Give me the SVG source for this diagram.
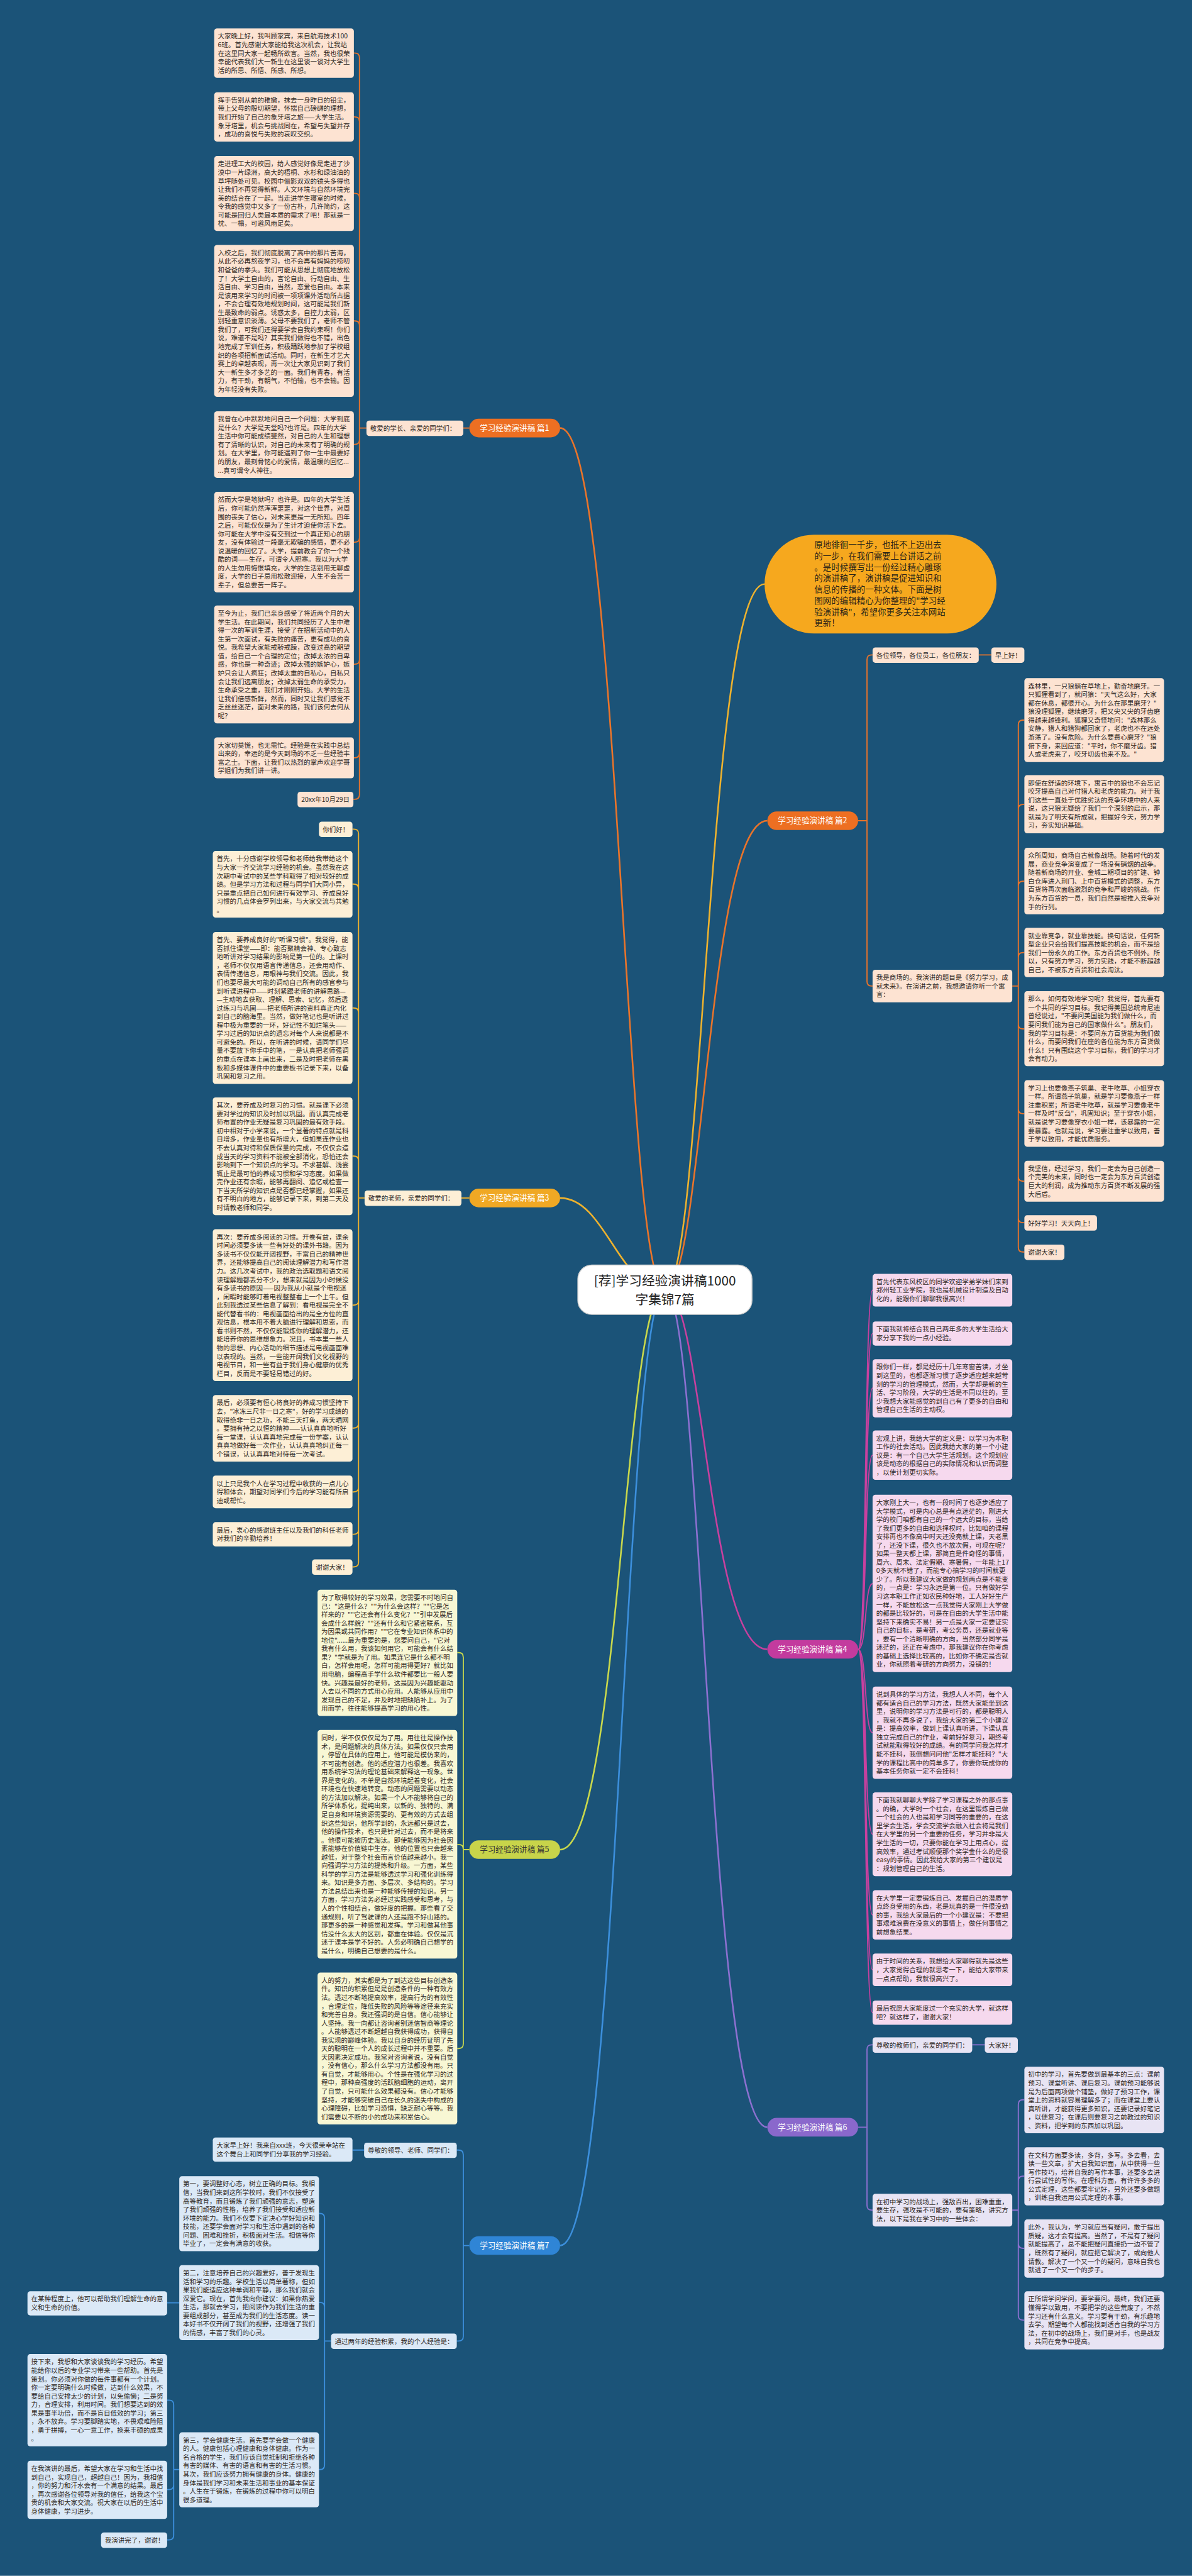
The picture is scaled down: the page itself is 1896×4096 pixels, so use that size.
<svg xmlns="http://www.w3.org/2000/svg" width="1896" height="4096" viewBox="0 0 1896 4096">
<style>
text{font-family:"Noto Sans CJK SC","Noto Sans",sans-serif;}
.t{font-size:14.2px;fill:#2f2824}
.o rect{fill:#fde3d2}
.y rect{fill:#fdefd6}
.p rect{fill:#f6d9ee}
.g rect{fill:#f8f7d4}
.v rect{fill:#e8e4f4}
.u rect{fill:#dbe9f7}
.cn path{fill:none;stroke-width:2.5}
.k1{stroke:#ea742a}
.k3{stroke:#eeb22e}
.k4{stroke:#c8409f}
.k5{stroke:#c9d84c}
.k6{stroke:#8c70d0}
.k7{stroke:#3c8fdc}
.main{stroke-width:3.5 !important}
.br text{font-size:17px;fill:#fff;text-anchor:middle}
</style>
<g transform="scale(0.740625)">
<rect x="0" y="0" width="2560" height="5530" fill="#1b5378"/>
<g id="connectors" class="cn">
<path class="k3 main" d="M1642 1254C1520 1254 1510 2769 1428 2769"/>
<path class="k1 main" d="M1203 919C1330 919 1340 2769 1428 2769"/>
<path class="k3 main" d="M1203 2572C1300 2572 1330 2769 1428 2769"/>
<path class="k5 main" d="M1203 3971C1330 3971 1340 2769 1428 2769"/>
<path class="k7 main" d="M1203 4821C1330 4821 1340 2769 1428 2769"/>
<path class="k1 main" d="M1648 1762C1520 1762 1510 2769 1428 2769"/>
<path class="k4 main" d="M1648 3541C1520 3541 1510 2769 1428 2769"/>
<path class="k6 main" d="M1648 4567C1520 4567 1510 2769 1428 2769"/>
<path class="k1" d="M1008 919H995"/>
<path class="k1" d="M787 919H772V124Q772 114 762 114H759M787 919H772V261Q772 251 762 251H759M787 919H772V425Q772 415 762 415H759M787 919H772V699Q772 689 762 689H759M787 919H772V944Q772 954 762 954H759M787 919H772V1154Q772 1164 762 1164H759M787 919H772V1416Q772 1426 762 1426H759M787 919H772V1617Q772 1627 762 1627H759M787 919H772V1706Q772 1716 762 1716H759"/>
<path class="k3" d="M1008 2572H991"/>
<path class="k3" d="M783 2572H770V1790Q770 1780 760 1780H757M783 2572H770V1908Q770 1898 760 1898H757M783 2572H770V2174Q770 2164 760 2164H757M783 2572H770V2492Q770 2482 760 2482H757M783 2572H770V2792Q770 2802 760 2802H757M783 2572H770V3056Q770 3066 760 3066H757M783 2572H770V3193Q770 3203 760 3203H757M783 2572H770V3284Q770 3294 760 3294H757M783 2572H770V3354Q770 3364 760 3364H757"/>
<path class="k5" d="M1008 3971H995V3558Q995 3548 985 3548H982M1008 3971H995V3970Q995 3960 985 3960H982M1008 3971H995V4388Q995 4398 985 4398H982"/>
<path class="k7" d="M1008 4821H995V4626Q995 4616 985 4616H981M1008 4821H995V5016Q995 5026 985 5026H981M782 4616H757M711 5026H697V4762Q697 4752 687 4752H685M711 5026H697V4953Q697 4943 687 4943H685M711 5026H697V5292Q697 5302 687 5302H685M385 4944H359M385 5302H373V5163Q373 5153 363 5153H359M385 5302H373V5335Q373 5345 363 5345H359M385 5302H373V5443Q373 5453 363 5453H359"/>
<path class="k1" d="M1843 1762H1862V1416Q1862 1406 1872 1406H1874M1843 1762H1862V2107Q1862 2117 1872 2117H1874M2102 1406H2129M2174 2117H2187V1556Q2187 1546 2197 1546H2200M2174 2117H2187V1737Q2187 1727 2197 1727H2200M2174 2117H2187V1902Q2187 1892 2197 1892H2200M2174 2117H2187V2055Q2187 2045 2197 2045H2200M2174 2117H2187V2199Q2187 2209 2197 2209H2200M2174 2117H2187V2381Q2187 2391 2197 2391H2200M2174 2117H2187V2526Q2187 2536 2197 2536H2200M2174 2117H2187V2615Q2187 2625 2197 2625H2200M2174 2117H2187V2678Q2187 2688 2197 2688H2200"/>
<path class="k4" d="M1843 3541C1862 3541 1856 2770 1874 2770M1843 3541C1862 3541 1856 2863 1874 2863M1843 3541C1862 3541 1856 2980 1874 2980M1843 3541C1862 3541 1856 3124 1874 3124M1843 3541C1862 3541 1856 3400 1874 3400M1843 3541C1862 3541 1856 3720 1874 3720M1843 3541C1862 3541 1856 3938 1874 3938M1843 3541C1862 3541 1856 4111 1874 4111M1843 3541C1862 3541 1856 4229 1874 4229M1843 3541C1862 3541 1856 4321 1874 4321"/>
<path class="k6" d="M1843 4567H1862V4400Q1862 4390 1872 4390H1874M1843 4567H1862V4735Q1862 4745 1872 4745H1874M2088 4390H2115M2174 4745H2187V4518Q2187 4508 2197 4508H2200M2174 4745H2187V4682Q2187 4672 2197 4672H2200M2174 4745H2187V4817Q2187 4827 2197 4827H2200M2174 4745H2187V4971Q2187 4981 2197 4981H2200"/>
</g>

<g id="center"><rect x="1241" y="2716" width="374" height="106" rx="30" fill="#fff" stroke="#d0d0d0" stroke-width="2"/><text x="1428" y="2760" font-size="28" fill="#222" text-anchor="middle">[荐]学习经验演讲稿1000<tspan x="1428" dy="40">字集锦7篇</tspan></text></g>
<g id="intro"><rect x="1642" y="1148" width="498" height="212" rx="106" fill="#f6a81e"/><text x="1749" y="1176" font-size="18.2" fill="#2a2418"><tspan x="1749">原地徘徊一千步，也抵不上迈出去</tspan><tspan x="1749" dy="24">的一步，在我们需要上台讲话之前</tspan><tspan x="1749" dy="24">。是时候撰写出一份经过精心雕琢</tspan><tspan x="1749" dy="24">的演讲稿了，演讲稿是促进知识和</tspan><tspan x="1749" dy="24">信息的传播的一种文体。下面是树</tspan><tspan x="1749" dy="24">图网的编辑精心为你整理的"学习经</tspan><tspan x="1749" dy="24">验演讲稿"，希望你更多关注本网站</tspan><tspan x="1749" dy="24">更新！</tspan></text></g>

<g class="br">
<g id="p1"><rect x="1008" y="899" width="195" height="40" rx="20" fill="#ed6f22"/><text x="1105" y="925">学习经验演讲稿 篇1</text></g>
<g id="p3"><rect x="1008" y="2552" width="195" height="40" rx="20" fill="#f0a824"/><text x="1105" y="2578">学习经验演讲稿 篇3</text></g>
<g id="p5"><rect x="1008" y="3951" width="195" height="40" rx="20" fill="#c8d44a"/><text x="1105" y="3977" style="fill:#333">学习经验演讲稿 篇5</text></g>
<g id="p7"><rect x="1008" y="4801" width="195" height="40" rx="20" fill="#2f85d6"/><text x="1105" y="4827">学习经验演讲稿 篇7</text></g>
<g id="p2"><rect x="1648" y="1742" width="195" height="40" rx="20" fill="#ed6f22"/><text x="1745" y="1768">学习经验演讲稿 篇2</text></g>
<g id="p4"><rect x="1648" y="3521" width="195" height="40" rx="20" fill="#c33b9e"/><text x="1745" y="3547">学习经验演讲稿 篇4</text></g>
<g id="p6"><rect x="1648" y="4547" width="195" height="40" rx="20" fill="#8a68cc"/><text x="1745" y="4573">学习经验演讲稿 篇6</text></g>
</g>

<g class="o">
<g id="a0"><rect x="787" y="903" width="208" height="33" rx="6"/><text class="t" x="795" y="925">敬爱的学长、亲爱的同学们：</text></g>
<g id="a1"><rect x="460" y="61" width="300" height="106" rx="6"/><text class="t" x="468" y="83"><tspan x="468">大家晚上好，我叫顾家宾，来自航海技术100</tspan><tspan x="468" dy="18.3">6班。首先感谢大家能给我这次机会，让我站</tspan><tspan x="468" dy="18.3">在这里同大家一起畅所欲言。当然，我也很荣</tspan><tspan x="468" dy="18.3">幸能代表我们大一新生在这里谈一谈对大学生</tspan><tspan x="468" dy="18.3">活的所思、所悟、所感、所想。</tspan></text></g>
<g id="a2"><rect x="460" y="198" width="300" height="106" rx="6"/><text class="t" x="468" y="220"><tspan x="468">挥手告别从前的稚嫩，抹去一身昨日的铅尘，</tspan><tspan x="468" dy="18.3">带上父母的殷切期望，怀揣自己磅礴的理想，</tspan><tspan x="468" dy="18.3">我们开始了自己的象牙塔之旅——大学生活。</tspan><tspan x="468" dy="18.3">象牙塔里，机会与挑战同在，希望与失望并存</tspan><tspan x="468" dy="18.3">，成功的喜悦与失败的哀叹交织。</tspan></text></g>
<g id="a3"><rect x="460" y="335" width="300" height="161" rx="6"/><text class="t" x="468" y="357"><tspan x="468">走进理工大的校园，给人感觉好像是走进了沙</tspan><tspan x="468" dy="18.3">漠中一片绿洲，高大的梧桐、水杉和绿油油的</tspan><tspan x="468" dy="18.3">草坪随处可见。校园中俪影双双的镜头多得也</tspan><tspan x="468" dy="18.3">让我们不再觉得新鲜。人文环境与自然环境完</tspan><tspan x="468" dy="18.3">美的结合在了一起。当走进学生寝室的时候，</tspan><tspan x="468" dy="18.3">令我的感觉中又多了一份古朴，几许简约，这</tspan><tspan x="468" dy="18.3">可能是回归人类最本质的需求了吧！那就是一</tspan><tspan x="468" dy="18.3">枕、一榻，可避风雨足矣。</tspan></text></g>
<g id="a4"><rect x="460" y="526" width="300" height="326" rx="6"/><text class="t" x="468" y="548"><tspan x="468">入校之后，我们彻底脱离了高中的那片苦海，</tspan><tspan x="468" dy="18.3">从此不必再熬夜学习，也不会再有妈妈的唠叨</tspan><tspan x="468" dy="18.3">和爸爸的拳头。我们可能从思想上彻底地放松</tspan><tspan x="468" dy="18.3">了！大学土自由的，言论自由、行动自由、生</tspan><tspan x="468" dy="18.3">活自由、学习自由，当然，恋爱也自由。本来</tspan><tspan x="468" dy="18.3">是该用来学习的时间被一项项课外活动所占据</tspan><tspan x="468" dy="18.3">，不会合理有效地规划时间，这可能是我们新</tspan><tspan x="468" dy="18.3">生最致命的弱点。诱惑太多，自控力太弱，区</tspan><tspan x="468" dy="18.3">别轻重意识淡薄。父母不要我们了，老师不管</tspan><tspan x="468" dy="18.3">我们了，可我们还得要学会自我约束啊！你们</tspan><tspan x="468" dy="18.3">说，难道不是吗？其实我们做得也不错，出色</tspan><tspan x="468" dy="18.3">地完成了军训任务，积极踊跃地参加了学校组</tspan><tspan x="468" dy="18.3">织的各项招新面试活动。同时，在新生才艺大</tspan><tspan x="468" dy="18.3">赛上的卓越表现，再一次让大家见识到了我们</tspan><tspan x="468" dy="18.3">大一新生多才多艺的一面。我们有青春，有活</tspan><tspan x="468" dy="18.3">力，有干劲，有朝气，不怕输，也不会输。因</tspan><tspan x="468" dy="18.3">为年轻没有失败。</tspan></text></g>
<g id="a5"><rect x="460" y="883" width="300" height="143" rx="6"/><text class="t" x="468" y="905"><tspan x="468">我曾在心中默默地问自己一个问题：大学到底</tspan><tspan x="468" dy="18.3">是什么？大学是天堂吗?也许是。四年的大学</tspan><tspan x="468" dy="18.3">生活中你可能成绩斐然，对自己的人生和理想</tspan><tspan x="468" dy="18.3">有了清晰的认识，对自己的未来有了明确的规</tspan><tspan x="468" dy="18.3">划。在大学里，你可能遇到了你一生中最要好</tspan><tspan x="468" dy="18.3">的朋友，最刻骨铭心的爱情，最温暖的回忆...</tspan><tspan x="468" dy="18.3">...真可谓令人神往。</tspan></text></g>
<g id="a6"><rect x="460" y="1056" width="300" height="216" rx="6"/><text class="t" x="468" y="1078"><tspan x="468">然而大学是地狱吗？也许是。四年的大学生活</tspan><tspan x="468" dy="18.3">后，你可能仍然浑浑噩噩，对这个世界，对周</tspan><tspan x="468" dy="18.3">围的丧失了信心，对未来更是一无所知。四年</tspan><tspan x="468" dy="18.3">之后，可能仅仅是为了生计才迫使你活下去。</tspan><tspan x="468" dy="18.3">你可能在大学中没有交到过一个真正知心的朋</tspan><tspan x="468" dy="18.3">友，没有体验过一段毫无欺骗的感情，更不必</tspan><tspan x="468" dy="18.3">说温暖的回忆了。大学，提前教会了你一个残</tspan><tspan x="468" dy="18.3">酷的词——生存，可谓令人胆寒。我以为大学</tspan><tspan x="468" dy="18.3">的人生勿用悔恨填充，大学的生活别用无聊虚</tspan><tspan x="468" dy="18.3">度，大学的日子忌用松散迎接，人生不会苦一</tspan><tspan x="468" dy="18.3">辈子，但总要苦一阵子。</tspan></text></g>
<g id="a7"><rect x="460" y="1300" width="300" height="253" rx="6"/><text class="t" x="468" y="1322"><tspan x="468">至今为止，我们已亲身感受了将近两个月的大</tspan><tspan x="468" dy="18.3">学生活。在此期间，我们共同经历了人生中难</tspan><tspan x="468" dy="18.3">得一次的军训生涯，接受了在招新活动中的人</tspan><tspan x="468" dy="18.3">生第一次面试，有失败的痛苦，更有成功的喜</tspan><tspan x="468" dy="18.3">悦。我希望大家能戒骄戒躁，改变过高的期望</tspan><tspan x="468" dy="18.3">值，给自己一个合理的定位；改掉太浓的自卑</tspan><tspan x="468" dy="18.3">感，你也是一种奇迹；改掉太强的嫉妒心，嫉</tspan><tspan x="468" dy="18.3">妒只会让人疯狂；改掉太重的自私心，自私只</tspan><tspan x="468" dy="18.3">会让我们远离朋友；改掉太弱生命的承受力，</tspan><tspan x="468" dy="18.3">生命承受之重，我们才刚刚开始。大学的生活</tspan><tspan x="468" dy="18.3">让我们倍感新鲜，然而，同时又让我们感觉不</tspan><tspan x="468" dy="18.3">乏丝丝迷茫，面对未来的路，我们该何去何从</tspan><tspan x="468" dy="18.3">呢？</tspan></text></g>
<g id="a8"><rect x="460" y="1583" width="300" height="88" rx="6"/><text class="t" x="468" y="1605"><tspan x="468">大家切莫慌，也无需忙。经验是在实践中总结</tspan><tspan x="468" dy="18.3">出来的，幸运的是今天到场的不乏一些经验丰</tspan><tspan x="468" dy="18.3">富之士。下面，让我们以热烈的掌声欢迎学哥</tspan><tspan x="468" dy="18.3">学姐们为我们讲一讲。</tspan></text></g>
<g id="a9"><rect x="639" y="1700" width="120" height="33" rx="6"/><text class="t" x="647" y="1722">20xx年10月29日</text></g>
</g>

<g class="y">
<g id="c0"><rect x="783" y="2556" width="208" height="33" rx="6"/><text class="t" x="791" y="2578">敬爱的老师，亲爱的同学们：</text></g>
<g id="c9"><rect x="685" y="1764" width="72" height="33" rx="6"/><text class="t" x="693" y="1786">你们好！</text></g>
<g id="c1"><rect x="457" y="1827" width="300" height="143" rx="6"/><text class="t" x="465" y="1849"><tspan x="465">首先，十分感谢学校领导和老师给我带给这个</tspan><tspan x="465" dy="18.3">与大家一齐交流学习经验的机会。虽然我在这</tspan><tspan x="465" dy="18.3">次期中考试中的某些学科取得了相对较好的成</tspan><tspan x="465" dy="18.3">绩。但是学习方法和过程与同学们大同小异，</tspan><tspan x="465" dy="18.3">只是重点把自己如何进行有效学习、养成良好</tspan><tspan x="465" dy="18.3">习惯的几点体会罗列出来，与大家交流与共勉</tspan><tspan x="465" dy="18.3">。</tspan></text></g>
<g id="c2"><rect x="457" y="2001" width="300" height="326" rx="6"/><text class="t" x="465" y="2023"><tspan x="465">首先、要养成良好的"听课习惯"。我觉得，能</tspan><tspan x="465" dy="18.3">否抓住课堂——即：能否聚精会神、专心致志</tspan><tspan x="465" dy="18.3">地听讲对学习结果的影响是第一位的。上课时</tspan><tspan x="465" dy="18.3">，老师不仅仅用语言传递信息，还会用动作、</tspan><tspan x="465" dy="18.3">表情传递信息，用眼神与我们交流。因此，我</tspan><tspan x="465" dy="18.3">们也要尽最大可能的调动自己所有的感官参与</tspan><tspan x="465" dy="18.3">到听课进程中——时刻紧跟老师的讲解思路—</tspan><tspan x="465" dy="18.3">—主动地去获取、理解、思索、记忆，然后透</tspan><tspan x="465" dy="18.3">过练习与巩固——把老师所讲的资料真正内化</tspan><tspan x="465" dy="18.3">到自己的脑海里。当然，做好笔记也是听讲过</tspan><tspan x="465" dy="18.3">程中极为重要的一环，好记性不如烂笔头——</tspan><tspan x="465" dy="18.3">学习过后的知识点的遗忘对每个人来说都是不</tspan><tspan x="465" dy="18.3">可避免的。所以，在听讲的时候，请同学们尽</tspan><tspan x="465" dy="18.3">量不要放下你手中的笔，一是认真把老师强调</tspan><tspan x="465" dy="18.3">的重点在课本上画出来，二是及时把老师在黑</tspan><tspan x="465" dy="18.3">板和多媒体课件中的重要板书记录下来，以备</tspan><tspan x="465" dy="18.3">巩固和复习之用。</tspan></text></g>
<g id="c3"><rect x="457" y="2356" width="300" height="253" rx="6"/><text class="t" x="465" y="2378"><tspan x="465">其次，要养成及时复习的习惯。就是课下必须</tspan><tspan x="465" dy="18.3">要对学过的知识及时加以巩固。而认真完成老</tspan><tspan x="465" dy="18.3">师布置的作业无疑是复习巩固的最有效手段。</tspan><tspan x="465" dy="18.3">初中相对于小学来说，一个显著的特点就是科</tspan><tspan x="465" dy="18.3">目增多，作业量也有所增大，但如果连作业也</tspan><tspan x="465" dy="18.3">不去认真对待和保质保量的完成，不仅仅会造</tspan><tspan x="465" dy="18.3">成当天的学习资料不能被全部消化，恐怕还会</tspan><tspan x="465" dy="18.3">影响到下一个知识点的学习。不求甚解、浅尝</tspan><tspan x="465" dy="18.3">辄止是最可怕的养成习惯和学习态度。如果做</tspan><tspan x="465" dy="18.3">完作业还有余暇，能够再翻阅、追忆或检查一</tspan><tspan x="465" dy="18.3">下当天所学的知识点是否都已经掌握，如果还</tspan><tspan x="465" dy="18.3">有不明白的地方，能够记录下来，到第二天及</tspan><tspan x="465" dy="18.3">时请教老师和同学。</tspan></text></g>
<g id="c4"><rect x="457" y="2639" width="300" height="326" rx="6"/><text class="t" x="465" y="2661"><tspan x="465">再次：要养成多阅读的习惯。开卷有益，课余</tspan><tspan x="465" dy="18.3">时间必须要多读一些有好处的课外书籍。因为</tspan><tspan x="465" dy="18.3">多读书不仅仅能开阔视野，丰富自己的精神世</tspan><tspan x="465" dy="18.3">界，还能够提高自己的阅读理解潜力和写作潜</tspan><tspan x="465" dy="18.3">力。这几次考试中，我的政治选取题和语文阅</tspan><tspan x="465" dy="18.3">读理解题都丢分不少，想来就是因为小时候没</tspan><tspan x="465" dy="18.3">有多读书的原因——因为我从小就是个电视迷</tspan><tspan x="465" dy="18.3">，闲暇时能够盯着电视整整看上一个上午。但</tspan><tspan x="465" dy="18.3">此刻我透过某些信息了解到：看电视是完全不</tspan><tspan x="465" dy="18.3">能代替看书的：电视画面给出的是全方位的直</tspan><tspan x="465" dy="18.3">观信息，根本用不着大脑进行理解和思索，而</tspan><tspan x="465" dy="18.3">看书则不然，不仅仅能锻炼你的理解潜力，还</tspan><tspan x="465" dy="18.3">能培养你的思维想象力。况且，书本里一些人</tspan><tspan x="465" dy="18.3">物的思想、内心活动的细节描述是电视画面难</tspan><tspan x="465" dy="18.3">以表现的。当然，一些能开阔我们文化视野的</tspan><tspan x="465" dy="18.3">电视节目，和一些有益于我们身心健康的优秀</tspan><tspan x="465" dy="18.3">栏目，反而是不要轻易错过的好。</tspan></text></g>
<g id="c5"><rect x="457" y="2995" width="300" height="143" rx="6"/><text class="t" x="465" y="3017"><tspan x="465">最后，必须要有恒心将良好的养成习惯坚持下</tspan><tspan x="465" dy="18.3">去，"冰冻三尺非一日之寒"，好的学习成绩的</tspan><tspan x="465" dy="18.3">取得绝非一日之功，不能三天打鱼，两天晒网</tspan><tspan x="465" dy="18.3">。要拥有持之以恒的精神——认认真真地听好</tspan><tspan x="465" dy="18.3">每一堂课，认认真真地完成每一份学案，认认</tspan><tspan x="465" dy="18.3">真真地做好每一次作业，认认真真地纠正每一</tspan><tspan x="465" dy="18.3">个错误，认认真真地对待每一次考试。</tspan></text></g>
<g id="c6"><rect x="457" y="3168" width="300" height="70" rx="6"/><text class="t" x="465" y="3190"><tspan x="465">以上只是我个人在学习过程中收获的一点儿心</tspan><tspan x="465" dy="18.3">得和体会，期望对同学们今后的学习能有所启</tspan><tspan x="465" dy="18.3">迪或帮忙。</tspan></text></g>
<g id="c7"><rect x="457" y="3268" width="300" height="52" rx="6"/><text class="t" x="465" y="3290"><tspan x="465">最后，衷心的感谢班主任以及我们的科任老师</tspan><tspan x="465" dy="18.3">对我们的辛勤培养！</tspan></text></g>
<g id="c8"><rect x="670" y="3348" width="87" height="33" rx="6"/><text class="t" x="678" y="3370">谢谢大家！</text></g>
</g>

<g class="g">
<g id="d1"><rect x="682" y="3413" width="300" height="271" rx="6"/><text class="t" x="690" y="3435"><tspan x="690">为了取得较好的学习效果，您需要不时地问自</tspan><tspan x="690" dy="18.3">己："这是什么？""为什么会这样？""它是怎</tspan><tspan x="690" dy="18.3">样来的？""它还会有什么变化？""引申发展后</tspan><tspan x="690" dy="18.3">会成什么样貌？""还有什么和它紧密联系，互</tspan><tspan x="690" dy="18.3">为因果或共同作用？""它在专业知识体系中的</tspan><tspan x="690" dy="18.3">地位"......最为重要的是，您要问自己，"它对</tspan><tspan x="690" dy="18.3">我有什么用，我该如何用它，可能会有什么结</tspan><tspan x="690" dy="18.3">果？"学就是为了用。如果连它是什么都不明</tspan><tspan x="690" dy="18.3">白，怎样会用呢，怎样可能用得更好？就比如</tspan><tspan x="690" dy="18.3">用电脑，编程高手学什么软件都要比一般人要</tspan><tspan x="690" dy="18.3">快。兴趣是最好的老师，这是因为兴趣能驱动</tspan><tspan x="690" dy="18.3">人去以不同的方式用心应用。人能够从应用中</tspan><tspan x="690" dy="18.3">发现自己的不足，并及时地把缺陷补上。为了</tspan><tspan x="690" dy="18.3">用而学，往往能够提高学习的用心性。</tspan></text></g>
<g id="d2"><rect x="682" y="3714" width="300" height="491" rx="6"/><text class="t" x="690" y="3736"><tspan x="690">同时，学不仅仅仅是为了用。用往往是操作技</tspan><tspan x="690" dy="18.3">术，是问题解决的具体方法。如果仅仅只会用</tspan><tspan x="690" dy="18.3">，停留在具体的应用上，他可能是模仿来的，</tspan><tspan x="690" dy="18.3">不可能有创造。他的适应潜力也很差。我喜欢</tspan><tspan x="690" dy="18.3">用系统学习法的理论基础来解释这一现象。世</tspan><tspan x="690" dy="18.3">界是变化的。不单是自然环境起着变化，社会</tspan><tspan x="690" dy="18.3">环境也在快速地转变。动态的问题需要以动态</tspan><tspan x="690" dy="18.3">的方法加以解决。如果一个人不能够将自己的</tspan><tspan x="690" dy="18.3">所学体系化，提纯出来，以新的、独特的、满</tspan><tspan x="690" dy="18.3">足自身和环境资源需要的、更有效的方式去组</tspan><tspan x="690" dy="18.3">织这些知识，他所学到的，永远都只是过去，</tspan><tspan x="690" dy="18.3">他的操作技术，也只是针对过去，而不是将来</tspan><tspan x="690" dy="18.3">。他很可能被历史淘汰。即使能够因为社会因</tspan><tspan x="690" dy="18.3">素能够在价值链中生存，他的位置也只会越来</tspan><tspan x="690" dy="18.3">越低，对于整个社会而言价值越来越小。我一</tspan><tspan x="690" dy="18.3">向强调学习方法的提炼和升级。一方面，某些</tspan><tspan x="690" dy="18.3">科学的学习方法是能够透过学习和强化训练得</tspan><tspan x="690" dy="18.3">来。知识是多方面、多层次、多结构的。学习</tspan><tspan x="690" dy="18.3">方法总结出来也是一种能够传授的知识。另一</tspan><tspan x="690" dy="18.3">方面，学习方法务必经过实践感受和思考，与</tspan><tspan x="690" dy="18.3">人的个性相结合，做好度的把握。那些看了交</tspan><tspan x="690" dy="18.3">通规则，听了驾驶课的人还是跑不好山路的。</tspan><tspan x="690" dy="18.3">那更多的是一种感觉和发挥。学习和做其他事</tspan><tspan x="690" dy="18.3">情没什么太大的区别，都重在体验。仅仅是沉</tspan><tspan x="690" dy="18.3">迷于课本是学不好的。人务必明确自己想学的</tspan><tspan x="690" dy="18.3">是什么，明确自己想要的是什么。</tspan></text></g>
<g id="d3"><rect x="682" y="4235" width="300" height="326" rx="6"/><text class="t" x="690" y="4257"><tspan x="690">人的努力，其实都是为了到达这些目标创造条</tspan><tspan x="690" dy="18.3">件。知识的积累但是是创造条件的一种有效方</tspan><tspan x="690" dy="18.3">法。透过不断地提高效率，提高行为的有效性</tspan><tspan x="690" dy="18.3">，合理定位，降低失败的风险等等途径来充实</tspan><tspan x="690" dy="18.3">和完善自身。我还强调的是自信。信心能够让</tspan><tspan x="690" dy="18.3">人坚持。我一向都让咨询者别迷信智商等理论</tspan><tspan x="690" dy="18.3">。人能够透过不断超越自我获得成功，获得自</tspan><tspan x="690" dy="18.3">我实现的巅峰体验。我以自身的经历证明了先</tspan><tspan x="690" dy="18.3">天的聪明在一个人的成长过程中并不重要。后</tspan><tspan x="690" dy="18.3">天因素决定成功。我常对咨询者说，没有自觉</tspan><tspan x="690" dy="18.3">，没有信心，那么什么学习方法都没有用。只</tspan><tspan x="690" dy="18.3">有自觉，才能够用心。个性是在强化学习的过</tspan><tspan x="690" dy="18.3">程中，那种高强度的活跃脑细胞的运动，离开</tspan><tspan x="690" dy="18.3">了自觉，只可能什么效果都没有。信心才能够</tspan><tspan x="690" dy="18.3">坚持，才能够突破自己在长久的迷失中构成的</tspan><tspan x="690" dy="18.3">心理障碍，比如学习恐惧，缺乏耐心等等。我</tspan><tspan x="690" dy="18.3">们需要以不断的小的成功来积累信心。</tspan></text></g>
</g>

<g class="u">
<g id="e0"><rect x="782" y="4600" width="199" height="33" rx="6"/><text class="t" x="790" y="4622">尊敬的领导、老师、同学们：</text></g>
<g id="e1"><rect x="457" y="4589" width="300" height="52" rx="6"/><text class="t" x="465" y="4611"><tspan x="465">大家早上好！我来自xxx班，今天很荣幸站在</tspan><tspan x="465" dy="18.3">这个舞台上和同学们分享我的学习经验。</tspan></text></g>
<g id="e2"><rect x="711" y="5010" width="270" height="33" rx="6"/><text class="t" x="719" y="5032">通过两年的经验积累，我的个人经验是：</text></g>
<g id="e3"><rect x="385" y="4672" width="300" height="161" rx="6"/><text class="t" x="393" y="4694"><tspan x="393">第一，要调整好心态，树立正确的目标。我相</tspan><tspan x="393" dy="18.3">信，当我们来到这所学校时，我们不仅接受了</tspan><tspan x="393" dy="18.3">高等教育，而且锻炼了我们顽强的意志，塑造</tspan><tspan x="393" dy="18.3">了我们顽强的性格，培养了我们接受和适应新</tspan><tspan x="393" dy="18.3">环境的能力。我们不仅要下定决心学好知识和</tspan><tspan x="393" dy="18.3">技能，还要学会面对学习和生活中遇到的各种</tspan><tspan x="393" dy="18.3">问题、困难和挫折，积极面对生活。相信等你</tspan><tspan x="393" dy="18.3">毕业了，一定会有满意的收获。</tspan></text></g>
<g id="e4"><rect x="385" y="4863" width="300" height="161" rx="6"/><text class="t" x="393" y="4885"><tspan x="393">第二，注意培养自己的兴趣爱好，善于发现生</tspan><tspan x="393" dy="18.3">活和学习的乐趣。学校生活以简单著称，但如</tspan><tspan x="393" dy="18.3">果我们能适应这种单调和平静，那么我们就会</tspan><tspan x="393" dy="18.3">深爱它。现在，首先我向你建议：如果你热爱</tspan><tspan x="393" dy="18.3">生活，那就去学习，把阅读作为我们生活的重</tspan><tspan x="393" dy="18.3">要组成部分，甚至成为我们的生活态度。读一</tspan><tspan x="393" dy="18.3">本好书不仅开阔了我们的视野，还增强了我们</tspan><tspan x="393" dy="18.3">的情感，丰富了我们的心灵。</tspan></text></g>
<g id="e5"><rect x="385" y="5222" width="300" height="161" rx="6"/><text class="t" x="393" y="5244"><tspan x="393">第三，学会健康生活。首先要学会做一个健康</tspan><tspan x="393" dy="18.3">的人。健康包括心理健康和身体健康。作为一</tspan><tspan x="393" dy="18.3">名合格的学生，我们应该自觉抵制和拒绝各种</tspan><tspan x="393" dy="18.3">有害的媒体、有害的语言和有害的生活习惯。</tspan><tspan x="393" dy="18.3">其次，我们应该努力拥有健康的身体。健康的</tspan><tspan x="393" dy="18.3">身体是我们学习和未来生活和事业的基本保证</tspan><tspan x="393" dy="18.3">。人生在于锻炼，在锻炼的过程中你可以明白</tspan><tspan x="393" dy="18.3">很多道理。</tspan></text></g>
<g id="e6"><rect x="59" y="4919" width="300" height="52" rx="6"/><text class="t" x="67" y="4941"><tspan x="67">在某种程度上，他可以帮助我们理解生命的意</tspan><tspan x="67" dy="18.3">义和生命的价值。</tspan></text></g>
<g id="e7"><rect x="59" y="5054" width="300" height="198" rx="6"/><text class="t" x="67" y="5076"><tspan x="67">接下来，我想和大家谈谈我的学习经历。希望</tspan><tspan x="67" dy="18.3">能给你以后的专业学习带来一些帮助。首先是</tspan><tspan x="67" dy="18.3">策划。你必须对你做的每件事都有一个计划。</tspan><tspan x="67" dy="18.3">你一定要明确什么时候做，达到什么效果，不</tspan><tspan x="67" dy="18.3">要给自己安排太少的计划，以免偷懒；二是努</tspan><tspan x="67" dy="18.3">力，合理安排，利用时间。我们想要达到的效</tspan><tspan x="67" dy="18.3">果是事半功倍，而不是盲目低效的学习；第三</tspan><tspan x="67" dy="18.3">，永不放弃。学习要脚踏实地，不畏艰难险阻</tspan><tspan x="67" dy="18.3">，勇于拼搏，一心一意工作，换来丰硕的成果</tspan><tspan x="67" dy="18.3">。</tspan></text></g>
<g id="e8"><rect x="59" y="5283" width="300" height="125" rx="6"/><text class="t" x="67" y="5305"><tspan x="67">在我演讲的最后，希望大家在学习和生活中找</tspan><tspan x="67" dy="18.3">到自己，实现自己，超越自己！因为，我相信</tspan><tspan x="67" dy="18.3">，你的努力和汗水会有一个满意的结果。最后</tspan><tspan x="67" dy="18.3">，再次感谢各位领导对我的信任，给我这个宝</tspan><tspan x="67" dy="18.3">贵的机会和大家交流。祝大家在以后的生活中</tspan><tspan x="67" dy="18.3">身体健康，学习进步。</tspan></text></g>
<g id="e9"><rect x="217" y="5437" width="142" height="33" rx="6"/><text class="t" x="225" y="5459">我演讲完了，谢谢！</text></g>
</g>

<g class="o">
<g id="g1"><rect x="1874" y="1390" width="228" height="33" rx="6"/><text class="t" x="1882" y="1412">各位领导，各位员工，各位朋友：</text></g>
<g id="g2"><rect x="2129" y="1390" width="71" height="33" rx="6"/><text class="t" x="2137" y="1412">早上好！</text></g>
<g id="g3"><rect x="1874" y="2082" width="300" height="70" rx="6"/><text class="t" x="1882" y="2104"><tspan x="1882">我是商场的。我演讲的题目是《努力学习，成</tspan><tspan x="1882" dy="18.3">就未来》。在演讲之前，我想邀请你听一个寓</tspan><tspan x="1882" dy="18.3">言：</tspan></text></g>
<g id="h1"><rect x="2200" y="1456" width="300" height="180" rx="6"/><text class="t" x="2208" y="1478"><tspan x="2208">森林里，一只狼躺在草地上，勤奋地磨牙。一</tspan><tspan x="2208" dy="18.3">只狐狸看到了，就问狼："天气这么好，大家</tspan><tspan x="2208" dy="18.3">都在休息，都很开心。为什么在那里磨牙？"</tspan><tspan x="2208" dy="18.3">狼没理狐狸，继续磨牙，把又尖又尖的牙齿磨</tspan><tspan x="2208" dy="18.3">得越来越锋利。狐狸又奇怪地问："森林那么</tspan><tspan x="2208" dy="18.3">安静，猎人和猎狗都回家了，老虎也不在远处</tspan><tspan x="2208" dy="18.3">游荡了。没有危险。为什么要费心磨牙？"狼</tspan><tspan x="2208" dy="18.3">俯下身，来回应道："平时，你不磨牙齿。猎</tspan><tspan x="2208" dy="18.3">人或老虎来了，咬牙切齿也来不及。"</tspan></text></g>
<g id="h2"><rect x="2200" y="1664" width="300" height="125" rx="6"/><text class="t" x="2208" y="1686"><tspan x="2208">即使在舒适的环境下，寓言中的狼也不会忘记</tspan><tspan x="2208" dy="18.3">咬牙提高自己对付猎人和老虎的能力。对于我</tspan><tspan x="2208" dy="18.3">们这些一直处于优胜劣汰的竞争环境中的人来</tspan><tspan x="2208" dy="18.3">说，这只狼无疑给了我们一个深刻的启示，那</tspan><tspan x="2208" dy="18.3">就是为了明天有所成就，把握好今天，努力学</tspan><tspan x="2208" dy="18.3">习，夯实知识基础。</tspan></text></g>
<g id="h3"><rect x="2200" y="1820" width="300" height="143" rx="6"/><text class="t" x="2208" y="1842"><tspan x="2208">众所周知，商场自古就像战场。随着时代的发</tspan><tspan x="2208" dy="18.3">展，商业竞争演变成了一场没有硝烟的战争。</tspan><tspan x="2208" dy="18.3">随着新商场的开业、金城二期项目的扩建、钟</tspan><tspan x="2208" dy="18.3">白仓库进入荆门、上中百货模式的调整，东方</tspan><tspan x="2208" dy="18.3">百货将再次面临激烈的竞争和严峻的挑战。作</tspan><tspan x="2208" dy="18.3">为东方百货的一员，我们自然是被推入竞争对</tspan><tspan x="2208" dy="18.3">手的行列。</tspan></text></g>
<g id="h4"><rect x="2200" y="1992" width="300" height="106" rx="6"/><text class="t" x="2208" y="2014"><tspan x="2208">就业靠竞争，就业靠技能。换句话说，任何新</tspan><tspan x="2208" dy="18.3">型企业只会给我们提高技能的机会，而不是给</tspan><tspan x="2208" dy="18.3">我们一份永久的工作。东方百货也不例外。所</tspan><tspan x="2208" dy="18.3">以，只有努力学习，努力实践，才能不断超越</tspan><tspan x="2208" dy="18.3">自己，不被东方百货和社会淘汰。</tspan></text></g>
<g id="h5"><rect x="2200" y="2128" width="300" height="161" rx="6"/><text class="t" x="2208" y="2150"><tspan x="2208">那么，如何有效地学习呢？我觉得，首先要有</tspan><tspan x="2208" dy="18.3">一个共同的学习目标。我记得美国总统肯尼迪</tspan><tspan x="2208" dy="18.3">曾经说过，"不要问美国能为我们做什么，而</tspan><tspan x="2208" dy="18.3">要问我们能为自己的国家做什么"。朋友们，</tspan><tspan x="2208" dy="18.3">我的学习目标是：不要问东方百货能为我们做</tspan><tspan x="2208" dy="18.3">什么，而要问我们在座的各位能为东方百货做</tspan><tspan x="2208" dy="18.3">什么！只有围绕这个学习目标，我们的学习才</tspan><tspan x="2208" dy="18.3">会有动力。</tspan></text></g>
<g id="h6"><rect x="2200" y="2319" width="300" height="143" rx="6"/><text class="t" x="2208" y="2341"><tspan x="2208">学习上也要像燕子筑巢、老牛吃草、小姐穿衣</tspan><tspan x="2208" dy="18.3">一样。所谓燕子筑巢，就是学习要像燕子一样</tspan><tspan x="2208" dy="18.3">注重积累；所谓老牛吃草，就是学习要像老牛</tspan><tspan x="2208" dy="18.3">一样及时"反刍"，巩固知识；至于穿衣小姐，</tspan><tspan x="2208" dy="18.3">就是说学习要像穿衣小姐一样，该暴露的一定</tspan><tspan x="2208" dy="18.3">要暴露。也就是说，学习要注重学以致用，善</tspan><tspan x="2208" dy="18.3">于学以致用，才能优质服务。</tspan></text></g>
<g id="h7"><rect x="2200" y="2492" width="300" height="88" rx="6"/><text class="t" x="2208" y="2514"><tspan x="2208">我坚信，经过学习，我们一定会为自己创造一</tspan><tspan x="2208" dy="18.3">个完美的未来，同时也一定会为东方百货创造</tspan><tspan x="2208" dy="18.3">巨大的利润，成为推动东方百货不断发展的强</tspan><tspan x="2208" dy="18.3">大后盾。</tspan></text></g>
<g id="h8"><rect x="2200" y="2609" width="156" height="33" rx="6"/><text class="t" x="2208" y="2631">好好学习！天天向上！</text></g>
<g id="h9"><rect x="2200" y="2672" width="86" height="33" rx="6"/><text class="t" x="2208" y="2694">谢谢大家！</text></g>
</g>

<g class="p">
<g id="i1"><rect x="1874" y="2735" width="300" height="70" rx="6"/><text class="t" x="1882" y="2757"><tspan x="1882">首先代表东风校区的同学欢迎学弟学妹们来到</tspan><tspan x="1882" dy="18.3">郑州轻工业学院，我也是机械设计制造及自动</tspan><tspan x="1882" dy="18.3">化的，能跟你们聊聊我很高兴！</tspan></text></g>
<g id="i2"><rect x="1874" y="2837" width="300" height="52" rx="6"/><text class="t" x="1882" y="2859"><tspan x="1882">下面我就将结合我自己两年多的大学生活给大</tspan><tspan x="1882" dy="18.3">家分享下我的一点小经验。</tspan></text></g>
<g id="i3"><rect x="1874" y="2918" width="300" height="125" rx="6"/><text class="t" x="1882" y="2940"><tspan x="1882">跟你们一样，都是经历十几年寒窗苦读，才坐</tspan><tspan x="1882" dy="18.3">到这里的，也都逐渐习惯了逐步适应越来越苛</tspan><tspan x="1882" dy="18.3">刻的学习的管理模式，然而，大学却是新的生</tspan><tspan x="1882" dy="18.3">活、学习阶段，大学的生活是不同以往的，至</tspan><tspan x="1882" dy="18.3">少我想大家能感觉的到自己有了更多的自由和</tspan><tspan x="1882" dy="18.3">管理自己生活的主动权。</tspan></text></g>
<g id="i4"><rect x="1874" y="3071" width="300" height="106" rx="6"/><text class="t" x="1882" y="3093"><tspan x="1882">宏观上讲，我给大学的定义是：以学习为本职</tspan><tspan x="1882" dy="18.3">工作的社会活动。因此我给大家的第一个小建</tspan><tspan x="1882" dy="18.3">议是：有一个自己大学生活规划。这个规划应</tspan><tspan x="1882" dy="18.3">该是动态的根据自己的实际情况和认识而调整</tspan><tspan x="1882" dy="18.3">，以使计划更切实际。</tspan></text></g>
<g id="i5"><rect x="1874" y="3209" width="300" height="381" rx="6"/><text class="t" x="1882" y="3231"><tspan x="1882">大家刚上大一，也有一段时间了也逐步适应了</tspan><tspan x="1882" dy="18.3">大学模式，可是内心总是有点迷茫的，刚进大</tspan><tspan x="1882" dy="18.3">学的校门咱都有自己的一个远大的目标，当给</tspan><tspan x="1882" dy="18.3">了我们更多的自由和选择权时，比如咱的课程</tspan><tspan x="1882" dy="18.3">安排再也不像高中时天还没亮就上课，天老黑</tspan><tspan x="1882" dy="18.3">了，还没下课，很久也不放次假，可现在呢？</tspan><tspan x="1882" dy="18.3">如果一整天都上课，那简直是件奇怪的事情，</tspan><tspan x="1882" dy="18.3">周六、周末、法定假期、寒暑假，一年能上17</tspan><tspan x="1882" dy="18.3">0多天就不错了，而能专心搞学习的时间就更</tspan><tspan x="1882" dy="18.3">少了。所以我建议大家做的规划两点是不能变</tspan><tspan x="1882" dy="18.3">的，一点是：学习永远是第一位。只有做好学</tspan><tspan x="1882" dy="18.3">习这本职工作正如农民种好地，工人好好生产</tspan><tspan x="1882" dy="18.3">一样，不能放松这一点我觉得大家刚上大学做</tspan><tspan x="1882" dy="18.3">的都是比较好的，可是在自由的大学生活中能</tspan><tspan x="1882" dy="18.3">坚持下来确实不易！另一点是大家一定要证实</tspan><tspan x="1882" dy="18.3">自己的目标，是考研，考公务员，还是就业等</tspan><tspan x="1882" dy="18.3">，要有一个清晰明确的方向，当然部分同学是</tspan><tspan x="1882" dy="18.3">迷茫的，还正在考虑中，那我建议你在你考虑</tspan><tspan x="1882" dy="18.3">的基础上选择比较高的，比如你不确定是否就</tspan><tspan x="1882" dy="18.3">业，你就照着考研的方向努力，没错的！</tspan></text></g>
<g id="i6"><rect x="1874" y="3621" width="300" height="198" rx="6"/><text class="t" x="1882" y="3643"><tspan x="1882">说到具体的学习方法，我想人人不同，每个人</tspan><tspan x="1882" dy="18.3">都有适合自己的学习方法，既然大家能坐到这</tspan><tspan x="1882" dy="18.3">里，说明你的学习方法是可行的，都是聪明人</tspan><tspan x="1882" dy="18.3">，我就不再多说了，我给大家的第二个小建议</tspan><tspan x="1882" dy="18.3">是：提高效率，做到上课认真听讲，下课认真</tspan><tspan x="1882" dy="18.3">独立完成自己的作业，考前好好复习，期终考</tspan><tspan x="1882" dy="18.3">试就能取得较好的成绩。有的同学问我怎样才</tspan><tspan x="1882" dy="18.3">能不挂科，我倒想问问他"怎样才能挂科？"大</tspan><tspan x="1882" dy="18.3">学的课程比高中的简单多了，你要你玩成你的</tspan><tspan x="1882" dy="18.3">基本任务你就一定不会挂科！</tspan></text></g>
<g id="i7"><rect x="1874" y="3848" width="300" height="180" rx="6"/><text class="t" x="1882" y="3870"><tspan x="1882">下面我就聊聊大学除了学习课程之外的那点事</tspan><tspan x="1882" dy="18.3">。的确，大学时一个社会，在这里锻炼自己做</tspan><tspan x="1882" dy="18.3">一个社会的人也是和学习同等的重要的，在这</tspan><tspan x="1882" dy="18.3">里学会生活，学会交流学会融入社会将是我们</tspan><tspan x="1882" dy="18.3">在大学里的另一个重要的任务，学习并非是大</tspan><tspan x="1882" dy="18.3">学生活的一切，只要你能在学习上用点心，提</tspan><tspan x="1882" dy="18.3">高效率，通过考试顺便那个奖学金什么的是很</tspan><tspan x="1882" dy="18.3">easy的事情。因此我给大家的第三个建议是</tspan><tspan x="1882" dy="18.3">：规划管理自己的生活。</tspan></text></g>
<g id="i8"><rect x="1874" y="4058" width="300" height="106" rx="6"/><text class="t" x="1882" y="4080"><tspan x="1882">在大学里一定要锻炼自己、发掘自己的潜质学</tspan><tspan x="1882" dy="18.3">点终身受用的东西，老是玩真的是一件很没劲</tspan><tspan x="1882" dy="18.3">的事，我给大家最后的一个小建议是：不要把</tspan><tspan x="1882" dy="18.3">事艰难浪费在没意义的事情上，做任何事情之</tspan><tspan x="1882" dy="18.3">前想象结果。</tspan></text></g>
<g id="i9"><rect x="1874" y="4194" width="300" height="70" rx="6"/><text class="t" x="1882" y="4216"><tspan x="1882">由于时间的关系，我想给大家聊得就先是这些</tspan><tspan x="1882" dy="18.3">，大家觉得合理的就思考一下，能给大家带来</tspan><tspan x="1882" dy="18.3">一点点帮助，我就很高兴了。</tspan></text></g>
<g id="i10"><rect x="1874" y="4295" width="300" height="52" rx="6"/><text class="t" x="1882" y="4317"><tspan x="1882">最后祝愿大家能度过一个充实的大学，就这样</tspan><tspan x="1882" dy="18.3">吧？就这样了，谢谢大家！</tspan></text></g>
</g>

<g class="v">
<g id="j1"><rect x="1874" y="4374" width="214" height="33" rx="6"/><text class="t" x="1882" y="4396">尊敬的教师们，亲爱的同学们：</text></g>
<g id="j2"><rect x="2115" y="4374" width="71" height="33" rx="6"/><text class="t" x="2123" y="4396">大家好！</text></g>
<g id="j3"><rect x="1874" y="4710" width="300" height="70" rx="6"/><text class="t" x="1882" y="4732"><tspan x="1882">在初中学习的战场上，强敌百出，困难重重，</tspan><tspan x="1882" dy="18.3">要生存，强攻是不可能的，要有策略，讲究方</tspan><tspan x="1882" dy="18.3">法，以下是我在学习中的一些体会：</tspan></text></g>
<g id="k1"><rect x="2200" y="4437" width="300" height="143" rx="6"/><text class="t" x="2208" y="4459"><tspan x="2208">初中的学习，首先要做到最基本的三点：课前</tspan><tspan x="2208" dy="18.3">预习、课堂听讲、课后复习。课前预习能够说</tspan><tspan x="2208" dy="18.3">是为后面两项做个铺垫，做好了预习工作，课</tspan><tspan x="2208" dy="18.3">堂上的资料就容易理解多了；而在课堂上要认</tspan><tspan x="2208" dy="18.3">真听讲，才能获得更多知识，还要记录好笔记</tspan><tspan x="2208" dy="18.3">，以便复习；在课后则要复习之前教过的知识</tspan><tspan x="2208" dy="18.3">、资料，把学到的东西加以巩固。</tspan></text></g>
<g id="k2"><rect x="2200" y="4610" width="300" height="125" rx="6"/><text class="t" x="2208" y="4632"><tspan x="2208">在文科方面要多读，多背，多写。多去看，去</tspan><tspan x="2208" dy="18.3">读一些文章，扩大自我知识面，从中获得一些</tspan><tspan x="2208" dy="18.3">写作技巧，培养自我的写作本事，还要多去进</tspan><tspan x="2208" dy="18.3">行尝试性的写作。在理科方面，有许许多多的</tspan><tspan x="2208" dy="18.3">公式定理，这些都要牢记好，另外还要多做题</tspan><tspan x="2208" dy="18.3">，训练自我运用公式定理的本事。</tspan></text></g>
<g id="k3"><rect x="2200" y="4765" width="300" height="125" rx="6"/><text class="t" x="2208" y="4787"><tspan x="2208">此外，我认为，学习就应当有疑问，敢于提出</tspan><tspan x="2208" dy="18.3">质疑，这才会有提高。当然了，不是有了疑问</tspan><tspan x="2208" dy="18.3">就能提高了，总不能把疑问直接扔一边不管了</tspan><tspan x="2208" dy="18.3">，既然有了疑问，就应把它解决了，或向他人</tspan><tspan x="2208" dy="18.3">请教。解决了一个又一个的疑问，意味自我也</tspan><tspan x="2208" dy="18.3">就进了一个又一个的步子。</tspan></text></g>
<g id="k4"><rect x="2200" y="4919" width="300" height="125" rx="6"/><text class="t" x="2208" y="4941"><tspan x="2208">正所谓学问学问，要学要问。最终，我们还要</tspan><tspan x="2208" dy="18.3">懂得学以致用，不要把学的这些荒废了，不然</tspan><tspan x="2208" dy="18.3">学习还有什么意义。学习要有干劲，有乐趣地</tspan><tspan x="2208" dy="18.3">去学。期望每个人都能找到适合自我的学习方</tspan><tspan x="2208" dy="18.3">法，在初中的战场上，我们是对手，也是战友</tspan><tspan x="2208" dy="18.3">，共同在竞争中提高。</tspan></text></g>
</g>
</g>
</svg>
